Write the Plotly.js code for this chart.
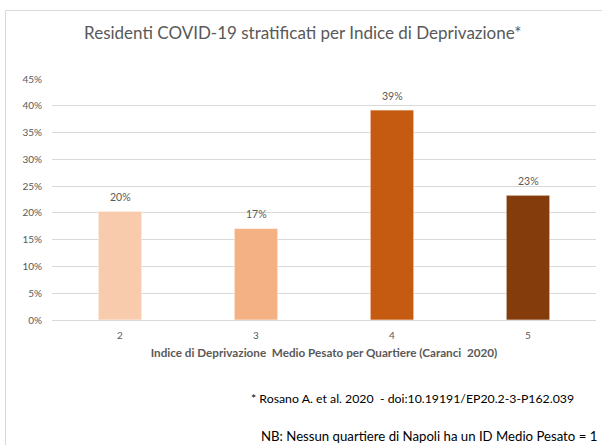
<!DOCTYPE html>
<html>
<head>
<meta charset="utf-8">
<script src="https://cdn.plot.ly/plotly-3.0.1.min.js"></script>
<style>html,body{margin:0;padding:0;background:#fff;}#chart{width:602px;height:445px;}</style>
</head>
<body>
<div id="chart"></div>
<script>
const categories = ["2", "3", "4", "5"];
const values = [0.203, 0.171, 0.392, 0.233];
const labels = ["20%", "17%", "39%", "23%"];
const barColors = ["#F8CBAD", "#F4B183", "#C55A11", "#843C0C"];
const yTickVals = [0, 0.05, 0.10, 0.15, 0.20, 0.25, 0.30, 0.35, 0.40, 0.45];
const yTickText = ["0%", "5%", "10%", "15%", "20%", "25%", "30%", "35%", "40%", "45%"];

const FONT = "Lato, 'Open Sans', sans-serif";
const GRAY = "#595959";

const trace = {
  type: "bar",
  x: categories,
  y: values,
  marker: { color: barColors, line: { color: "rgba(255,255,255,0.6)", width: 1 } },
  width: 0.32,
  hoverinfo: "none"
};

// annotations on a category axis are placed by category index
const labelAnnotations = categories.map((c, i) => ({
  x: i, y: values[i], xref: "x", yref: "y",
  text: labels[i], showarrow: false, yanchor: "bottom", yshift: 6,
  font: { family: FONT, size: 10.5, color: GRAY }
}));

const layout = {
  width: 602, height: 445,
  margin: { l: 52, r: 6, t: 79, b: 125 },
  paper_bgcolor: "#ffffff", plot_bgcolor: "#ffffff",
  showlegend: false,
  font: { family: FONT, color: GRAY },
  title: {
    text: "Residenti COVID-19 stratificati per Indice di Deprivazione*",
    font: { family: FONT, size: 17, color: GRAY },
    x: 0.503, xanchor: "center", xref: "container",
    y: 1 - 33 / 445, yanchor: "middle", yref: "container"
  },
  xaxis: {
    type: "category",
    range: [-0.5, 3.5],
    showgrid: false, zeroline: false,
    showline: true, linecolor: "#d9d9d9", linewidth: 1,
    ticks: "", tickfont: { family: FONT, size: 10, color: GRAY },
    ticklabelstandoff: 6,
    title: {
      text: "<b>Indice di Deprivazione  Medio Pesato per Quartiere (Caranci  2020)</b>",
      font: { family: FONT, size: 11.7, color: GRAY },
      standoff: 8
    },
    fixedrange: true
  },
  yaxis: {
    range: [0, 0.45],
    tickvals: yTickVals, ticktext: yTickText,
    showgrid: true, gridcolor: "#d9d9d9", gridwidth: 1,
    zeroline: false, showline: false,
    ticks: "", tickfont: { family: FONT, size: 10, color: GRAY },
    ticklabelstandoff: 9,
    fixedrange: true
  },
  shapes: [
    {
      type: "path", xref: "paper", yref: "paper",
      path: "M 1.02,1.284 L -0.0855,1.284 L -0.0855,-0.53",
      line: { color: "#d9d9d9", width: 1 }
    }
  ],
  annotations: labelAnnotations.concat([
    {
      xref: "paper", yref: "paper", x: (249 - 52) / 544, y: (320 - 398) / 241,
      xanchor: "left", yanchor: "middle", showarrow: false,
      text: "* Rosano A. et al. 2020  - doi:10.19191/EP20.2-3-P162.039",
      font: { family: FONT, size: 12.3, color: "#000000" }
    },
    {
      xref: "paper", yref: "paper", x: (259 - 52) / 544, y: (320 - 436) / 241,
      xanchor: "left", yanchor: "middle", showarrow: false,
      text: "NB: Nessun quartiere di Napoli ha un ID Medio Pesato = 1",
      font: { family: FONT, size: 13.2, color: "#000000" }
    }
  ])
};

Plotly.newPlot("chart", [trace], layout, { displayModeBar: false, staticPlot: true });
</script>
</body>
</html>
